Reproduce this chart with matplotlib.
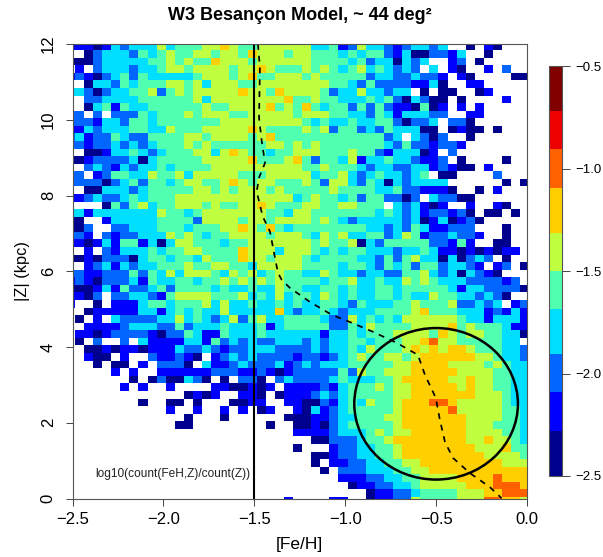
import numpy as np
import matplotlib
matplotlib.use('Agg')
from matplotlib import pyplot as plt
from matplotlib.colors import ListedColormap, BoundaryNorm
from matplotlib.patches import Ellipse

plt.rcParams['font.family'] = ['Liberation Sans', 'DejaVu Sans']

# colour class of each cell, top row first, '.' = empty bin
rows = [
    "1101323335 3444556544 55555 5334125332 123323..0. 10...",
    ".023332434 5445545546 55545 5444343442 13002213.. 0....",
    "0023333344 5454465554 55555 5444434233 0323..12.0 .....",
    "1.23332334 5545555455 65444 5454345343 232.3.10.. 1.2..",
    "2102342433 3334555456 44555 4544444233 223221.10. ...00",
    ".033243444 5545355544 55555 5554432422 221130..11 .....",
    "3202334452 4545555565 54655 5542335332 33.0.00..0 1....",
    ".223333444 4445355555 55564 4544333434 203200.0.. ..1..",
    ".034143344 4444544555 56454 6434424242 110401.1.1 .....",
    "2.2.222434 4454555445 55554 5554433243 133322..11 .....",
    "2213324434 4444445555 55555 4343343344 20223.220. .....",
    "1323334433 5444555556 54444 5452442324 33300.0100 .0...",
    "3122432244 4455455554 56444 4444444442 3.3202..0. .....",
    "2122323234 4454544444 45545 4544444443 24221221.. .....",
    ".001334323 4445535654 43445 5544454421 33301.2... .....",
    "0122223034 4444555556 44456 4244351334 332112.0.. ..0..",
    ".232132334 3444455555 55555 4454443233 223312100. 1....",
    "2.12443354 4535555544 45555 5344532343 3234.00... .2...",
    "2220234244 3455445654 55444 5425532430 323333.... ..0.0",
    ".003332344 4445545455 54544 4445444433 4221110..0 .1...",
    "1232234344 4555555555 55553 4544342442 202.32200. .....",
    "...0424534 4555454455 65444 554455444. 323101..1. .10..",
    "3133333335 4434555555 54435 5444444434 323122120. 00.0.",
    "0..1333334 4442555545 54555 5454323333 3230130120 .....",
    "02..223334 4434445565 46434 4444444332 324311222. ..0..",
    "21.2122333 5454344555 54555 4354533442 3541223221 ..0..",
    "1013144130 3554443445 55555 5454450324 444422141. .00..",
    ".1.2133343 4455444465 55355 5434344333 2334311010 1011.",
    "0102220344 3443544465 54555 4344443324 2453303023 2.0..",
    ".123132334 4454455443 55555 4444344324 3424423321 .12.0",
    "2112224243 5355543545 34544 3354332332 2445323032 10...",
    "2102223143 3443445454 54544 4434453343 3545433322 2212.",
    "0013142234 2444434334 33544 3344343344 3444443133 22220",
    "102.223321 4555544453 43534 4354343344 3433544332 320..",
    "..0.111344 3444535334 33434 3344324333 4454445223 23.12",
    ".011111331 3434335333 33632 3343233344 4456444333 12131",
    "0.1.322223 3534323524 53344 4432253434 3555555433 13331",
    ".111123332 2423334333 41344 4442243544 4455556454 44311",
    "1101222210 2243114333 43333 3313343444 5555465455 44330",
    "0.2..2.311 1133142323 22333 2323344344 4556755444 4433.",
    ".001011011 1322321223 33222 2323343544 4565656654 44332",
    ".100.1..21 1210.12323 22221 2212345445 5456666665 54332",
    "..0.00.1.2 220.311232 22312 3233344444 5566665555 45433",
    "....1.1..1 1111122211 21012 2222425445 5566666555 54433",
    "......0.02 00320.0.22 0.232 2223433344 5666665565 54433",
    ".....1.1.. 1....11001 01.11 1121344454 5566666565 54433",
    ".......... ..0101..11 0.011 1232344444 5566666665 55433",
    ".......0.. 00.0...001 1..11 0021343544 5666776555 55433",
    ".......... 1..1..1.1. 01..1 0312344444 5666667555 55443",
    ".......... ..0...0... ...00 0112334445 5666666655 55443",
    ".......... .00....... .0..0 0102344444 5666666655 54443",
    ".......... .......... ....1 1112333454 5566666655 55443",
    ".......... .......... ..... .002223445 6666666655 65543",
    ".......... .......... ....0 ...1223344 5666666665 55644",
    ".......... .......... ..... .001223344 5666666666 55554",
    ".......... .......... ..... .0.1122334 4556666666 66555",
    ".......... .......... ..... ..0.222333 4455666666 66666",
    ".......... .......... ..... ....111223 3445555666 67666",
    ".......... .......... ..... .....01122 3345555566 67776",
    ".......... .......... ..... .......011 2234444555 66777",
    ".......... .......... ...1. ...11..011 2254444555 77665",
]
# thin sliver of bins cut by the left axis
edge_col = "1.0.1.3..22122.0.22.1.30021.0.21011" + "." * 26

level_values = [-2.39, -2.18, -2.0, -1.8, -1.6, -1.4, -1.2, -1.0]

cbar_edges = [-2.5, -2.28, -2.09, -1.906, -1.687, -1.5, -1.313, -1.094, -0.906, -0.72, -0.5]
cbar_colors = ['#00008f', '#0000ff', '#0066ff', '#00dfff', '#50ffaf',
               '#bfff40', '#ffcf00', '#ff6000', '#ef0000', '#800000']

# mean metallicity track
track_feh = [-1.48, -1.469, -1.474, -1.459, -1.441, -1.474, -1.487, -1.469, -1.454, -1.414,
             -1.386, -1.37, -1.349, -1.304, -1.194, -1.074, -0.964, -0.847, -0.717, -0.60,
             -0.561, -0.502, -0.479, -0.451, -0.407, -0.314, -0.204, -0.14]
track_z = [12.0, 11.37, 10.05, 9.43, 8.86, 8.47, 8.10, 7.75, 7.45, 7.05,
           6.35, 5.96, 5.77, 5.56, 5.19, 4.85, 4.64, 4.40, 4.11, 3.79,
           3.26, 2.66, 2.07, 1.49, 1.07, 0.67, 0.30, 0.01]

vals = np.full((len(rows), 51), np.nan)
for i, r in enumerate(rows):
    full = edge_col[i] + r.replace(' ', '')
    assert len(full) == 51, (i, len(full))
    for j, ch in enumerate(full):
        if ch != '.':
            vals[i, j] = level_values[int(ch)]
vals = np.ma.masked_invalid(vals)

xedges = -2.487 + 0.05 * np.arange(-1, 51)
yedges = 12.04 - 0.2 * np.arange(0, 62)

cmap = ListedColormap(cbar_colors)
norm = BoundaryNorm(cbar_edges, cmap.N)

fig = plt.figure(figsize=(6.03, 5.57), dpi=100)
W, H = 603.0, 557.0
ax = fig.add_axes([72.5 / W, 1 - 498.5 / H, 454.5 / W, 454.5 / H])
m = ax.pcolormesh(xedges, yedges, vals, cmap=cmap, norm=norm)
ax.set_xlim(-2.5, 0)
ax.set_ylim(0, 12)

ax.axvline(-1.5, color='black', lw=1.5)
ax.plot(track_feh, track_z, color='black', lw=1.25, ls=(0, (3.4, 3.4)))
ax.add_patch(Ellipse((-0.5, 2.5), 0.9, 4.0, fill=False, ec='black', lw=1.8))
ax.text(-2.376, 0.65, 'log10(count(FeH,Z)/count(Z))', fontsize=8.6, va='center', color='#222222')

ax.set_xticks([-2.5, -2.0, -1.5, -1.0, -0.5, 0.0])
ax.set_yticks([0, 2, 4, 6, 8, 10, 12])
ax.tick_params(length=5, width=0.7, color='#444444', labelsize=12)
ax.tick_params(axis='x', pad=5)
ax.tick_params(axis='y', pad=7, labelrotation=90)
for t in ax.get_yticklabels():
    t.set_va('center')
for s in ax.spines.values():
    s.set_linewidth(0.8)
    s.set_color('#555555')
ax.set_xlabel('[Fe/H]', fontsize=12.5, labelpad=7)
fig.text(22 / W, 1 - 271 / H, '|Z| (kpc)', fontsize=11.8, rotation=90, ha='center', va='center')
fig.text(300 / W, 1 - 16 / H, 'W3 Besançon Model, ~ 44 deg²', fontsize=13, fontweight='bold',
         ha='center', va='center')

cax = fig.add_axes([549.3 / W, 1 - 476 / H, 12.4 / W, 410 / H])
cb = fig.colorbar(m, cax=cax, spacing='proportional')
cb.set_ticks([-2.5, -2.0, -1.5, -1.0, -0.5])
cb.set_ticklabels(['\u22122.5', '\u22122.0', '\u22121.5', '\u22121.0', '\u22120.5'])
cb.ax.minorticks_off()
cb.ax.tick_params(length=6, width=0.7, color='#444444', labelsize=9.5, pad=4)
cb.outline.set_linewidth(0.8)
cb.outline.set_edgecolor('#555555')
cb.dividers.set_visible(False)

plt.savefig('out.png', dpi=100)
